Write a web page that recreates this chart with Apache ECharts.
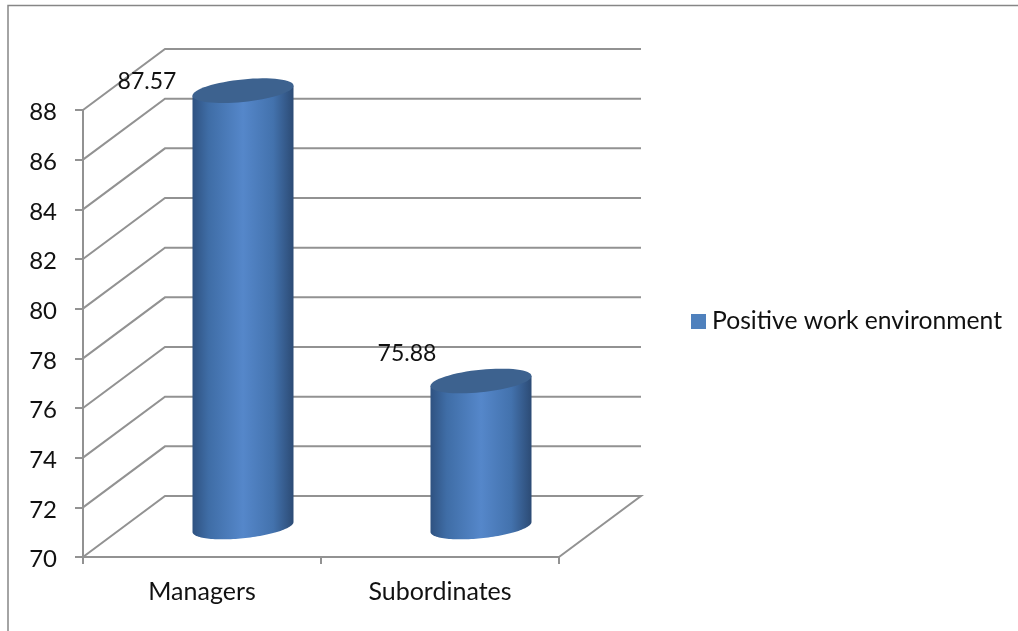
<!DOCTYPE html>
<html>
<head>
<meta charset="utf-8">
<style>html,body{margin:0;padding:0;background:#fff}#c{width:1018px;height:631px}</style>
<script src="https://cdn.jsdelivr.net/npm/echarts@6/dist/echarts.min.js"></script>
</head>
<body>
<div id="c"></div>
<script>
const categories = ['Managers', 'Subordinates'];
const seriesName = 'Positive work environment';
const values = [87.57, 75.88];
const wallTicks = [70, 72, 74, 76, 78, 80, 82, 84, 86, 88];

// Drawing constants (pseudo-3D projection and styling)
const FONT = 'Lato';
const GRAY = '#929292';
const WALL_DX = 82, WALL_DY = 61;
const BAR_DX = 41, BAR_DY = 30, BAR_RX = 50.5, BAR_RY = 11.3, BAR_SKEW = 5;
const LABEL_SHIFT = [[-96, -9], [-74, -27]];

function ellipsePts(cx, cy, from, to) {
  const pts = [];
  const n = 64;
  for (let i = 0; i <= n; i++) {
    const t = from + (to - from) * i / n;
    pts.push([cx + BAR_RX * Math.cos(t), cy + BAR_RY * Math.sin(t) - BAR_SKEW * Math.cos(t)]);
  }
  return pts;
}

const chart = echarts.init(document.getElementById('c'), null, {renderer: 'canvas'});
chart.setOption({
  backgroundColor: '#fff',
  animation: false,
  textStyle: {fontFamily: FONT},
  grid: {left: 83, right: 459, top: 110, bottom: 74},
  legend: {
    data: [seriesName],
    left: 686, top: 304,
    icon: 'rect', itemWidth: 15, itemHeight: 15, itemGap: 0,
    textStyle: {fontFamily: FONT, fontSize: 24.7, color: '#111', padding: [0, 0, 0, 1]}
  },
  xAxis: {
    type: 'category', data: categories, boundaryGap: true,
    axisLine: {lineStyle: {color: GRAY, width: 2}},
    axisTick: {show: true, alignWithLabel: false, length: 7, lineStyle: {color: GRAY, width: 2}},
    axisLabel: {fontFamily: FONT, fontSize: 25, color: '#111', margin: 22},
    splitLine: {show: false}
  },
  yAxis: {
    type: 'value', min: 70, max: 88, interval: 2,
    axisLine: {show: true, lineStyle: {color: GRAY, width: 2}},
    axisTick: {show: true, length: 8, lineStyle: {color: GRAY, width: 2}},
    axisLabel: {fontFamily: FONT, fontSize: 24, color: '#111', margin: 26, verticalAlign: 'top', lineHeight: 5},
    splitLine: {show: false}
  },
  graphic: [{
    type: 'polyline', silent: true, z: 0,
    shape: {points: [[8, 631], [8, 5.5], [1018, 5.5]]},
    style: {stroke: '#868686', lineWidth: 1.5, fill: null}
  }],
  series: [{
    name: 'walls', type: 'custom', z: 1, silent: true,
    data: wallTicks.map(v => [0, v]),
    encode: {x: 0, y: 1},
    renderItem(params, api) {
      const cs = params.coordSys;
      const v = api.value(1);
      const y = api.coord([0, v])[1];
      const pts = [[cs.x, y], [cs.x + WALL_DX, y - WALL_DY], [cs.x + cs.width + WALL_DX, y - WALL_DY]];
      if (v === wallTicks[0]) pts.push([cs.x + cs.width, y]);
      return {type: 'polyline', shape: {points: pts}, style: {stroke: GRAY, lineWidth: 2, fill: null}};
    }
  }, {
    name: seriesName, type: 'custom', z: 2, silent: true,
    itemStyle: {color: '#4f81bd'},
    data: values.map((v, i) => [i, v]),
    encode: {x: 0, y: 1},
    renderItem(params, api) {
      const i = api.value(0);
      const v = api.value(1);
      const top = api.coord([i, v]);
      const base = api.coord([i, 70]);
      const cx = top[0] + BAR_DX;
      const ty = top[1] - BAR_DY;
      const by = base[1] - BAR_DY;
      const bodyPts = [[cx - BAR_RX, ty + BAR_SKEW]].concat([[cx + BAR_RX, ty - BAR_SKEW]], ellipsePts(cx, by, 0, Math.PI));
      const shift = LABEL_SHIFT[params.dataIndex];
      return {
        type: 'group',
        children: [{
          type: 'polygon', shape: {points: bodyPts},
          style: {fill: new echarts.graphic.LinearGradient(0, 0, 1, 0, [
            {offset: 0, color: '#2f5281'},
            {offset: 0.16, color: '#3f6da6'},
            {offset: 0.5, color: '#5587ca'},
            {offset: 0.8, color: '#4372ad'},
            {offset: 1, color: '#2c4b75'}
          ])}
        }, {
          type: 'polygon', shape: {points: ellipsePts(cx, ty, 0, Math.PI * 2)},
          style: {fill: '#3d628f'}
        }, {
          type: 'text', z2: 10,
          style: {
            x: cx + shift[0], y: ty + shift[1], text: v.toFixed(2),
            fontFamily: FONT, fontSize: 23, fill: '#111', align: 'center', verticalAlign: 'middle'
          }
        }]
      };
    }
  }]
});
</script>
</body>
</html>
